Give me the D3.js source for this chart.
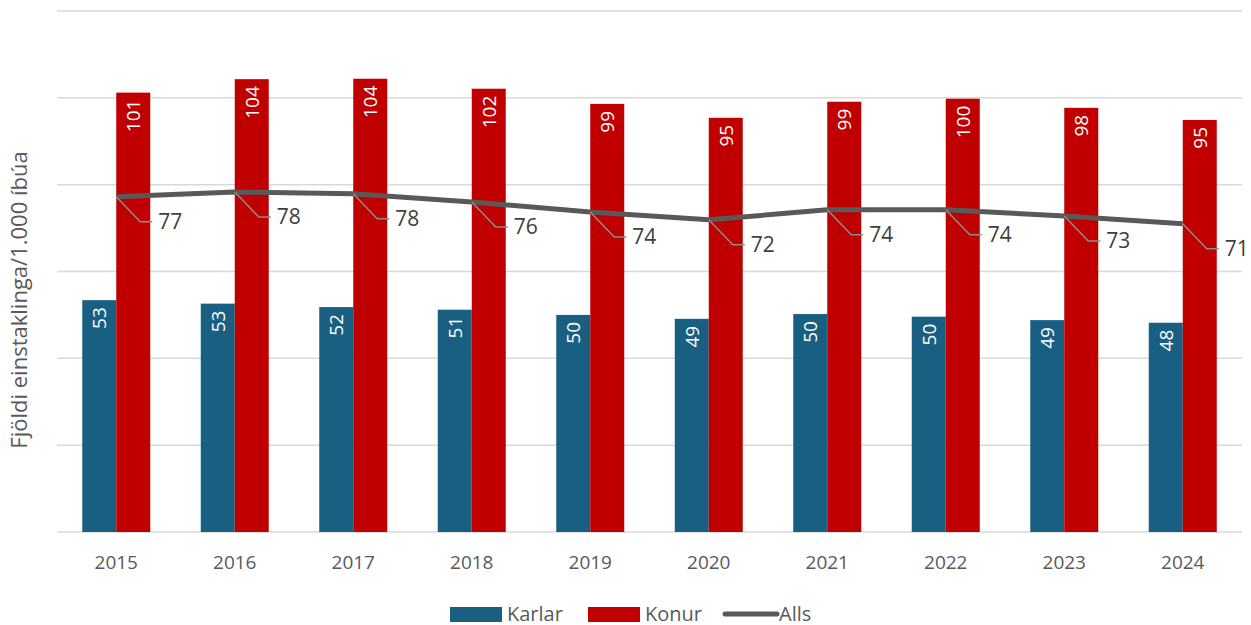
<!DOCTYPE html>
<html><head><meta charset="utf-8">
<script src="https://cdn.jsdelivr.net/npm/d3@7"></script>
<style>body{margin:0;background:#fff;font-family:"Open Sans",sans-serif;}</style>
</head><body><svg id="c" width="1251" height="625"></svg>
<script>
const years = ["2015","2016","2017","2018","2019","2020","2021","2022","2023","2024"];
const karlar = [53.4,52.6,51.8,51.2,50.0,49.1,50.2,49.6,48.8,48.2];
const konur = [101.2,104.3,104.4,102.1,98.6,95.4,99.1,99.8,97.7,94.9];
const alls = [77.2,78.3,77.9,76.0,73.7,71.9,74.2,74.2,72.8,71.0];
const yTicks = [0,20,40,60,80,100,120];

const svg = d3.select("#c");
const x = d3.scaleBand().domain(years).range([57,1242]).paddingInner(0).paddingOuter(0);
const y = d3.scaleLinear().domain([0,120]).range([532,11]);
const bw = 34;
const fmt = d3.format(".0f");

svg.append("g").selectAll("line").data(yTicks).join("line")
  .attr("x1",57).attr("x2",1242).attr("y1",d=>y(d)).attr("y2",d=>y(d))
  .attr("stroke","#d9d9d9").attr("stroke-width",1.5);

const cx = d => x(d)+x.bandwidth()/2;

svg.append("g").selectAll("rect").data(years).join("rect")
  .attr("x",d=>cx(d)-bw).attr("width",bw)
  .attr("y",(d,i)=>y(karlar[i])).attr("height",(d,i)=>y(0)-y(karlar[i]))
  .attr("fill","#185f82");
svg.append("g").selectAll("rect").data(years).join("rect")
  .attr("x",d=>cx(d)).attr("width",bw)
  .attr("y",(d,i)=>y(konur[i])).attr("height",(d,i)=>y(0)-y(konur[i]))
  .attr("fill","#c00000");

// bar labels
svg.append("g").selectAll("text").data(years).join("text")
  .attr("transform",(d,i)=>`translate(${cx(d)-bw/2+7},${y(karlar[i])+7}) rotate(-90)`)
  .attr("text-anchor","end").attr("fill","#fff").attr("font-size",19)
  .text((d,i)=>fmt(karlar[i]));
svg.append("g").selectAll("text").data(years).join("text")
  .attr("transform",(d,i)=>`translate(${cx(d)+bw/2+7},${y(konur[i])+7}) rotate(-90)`)
  .attr("text-anchor","end").attr("fill","#fff").attr("font-size",19)
  .text((d,i)=>fmt(konur[i]));

// line
const line = d3.line().x((d,i)=>cx(years[i])).y(d=>y(d));
svg.append("path").datum(alls).attr("d",line).attr("fill","none")
  .attr("stroke","#595959").attr("stroke-width",5).attr("stroke-linejoin","round");

// leader lines and labels
const lg = svg.append("g");
alls.forEach((v,i)=>{
  const px = cx(years[i]), py = y(v);
  lg.append("path").attr("d",`M${px},${py} L${px+24},${py+25} L${px+36},${py+25}`)
    .attr("fill","none").attr("stroke","#8c8c8c").attr("stroke-width",1.5);
  lg.append("text").attr("x",px+42).attr("y",py+32).attr("font-size",21)
    .attr("fill","#404040").text(fmt(v));
});

// x axis labels
svg.append("g").selectAll("text").data(years).join("text")
  .attr("x",d=>cx(d)).attr("y",569).attr("text-anchor","middle")
  .attr("font-size",19).attr("fill","#595959").text(d=>d);

// y title
svg.append("text").attr("transform","translate(27,300) rotate(-90)")
  .attr("text-anchor","middle").attr("font-size",22).attr("fill","#595959")
  .text("Fjöldi einstaklinga/1.000 íbúa");

// legend
const leg = svg.append("g");
leg.append("rect").attr("x",450).attr("y",607).attr("width",52).attr("height",15).attr("fill","#185f82");
leg.append("text").attr("x",507).attr("y",621).attr("font-size",20).attr("fill","#595959").text("Karlar");
leg.append("rect").attr("x",588).attr("y",607).attr("width",52).attr("height",15).attr("fill","#c00000");
leg.append("text").attr("x",645).attr("y",621).attr("font-size",20).attr("fill","#595959").text("Konur");
leg.append("line").attr("x1",725).attr("x2",777).attr("y1",614).attr("y2",614)
  .attr("stroke","#595959").attr("stroke-width",5).attr("stroke-linecap","round");
leg.append("text").attr("x",779).attr("y",621).attr("font-size",20).attr("fill","#595959").text("Alls");
</script></body></html>
